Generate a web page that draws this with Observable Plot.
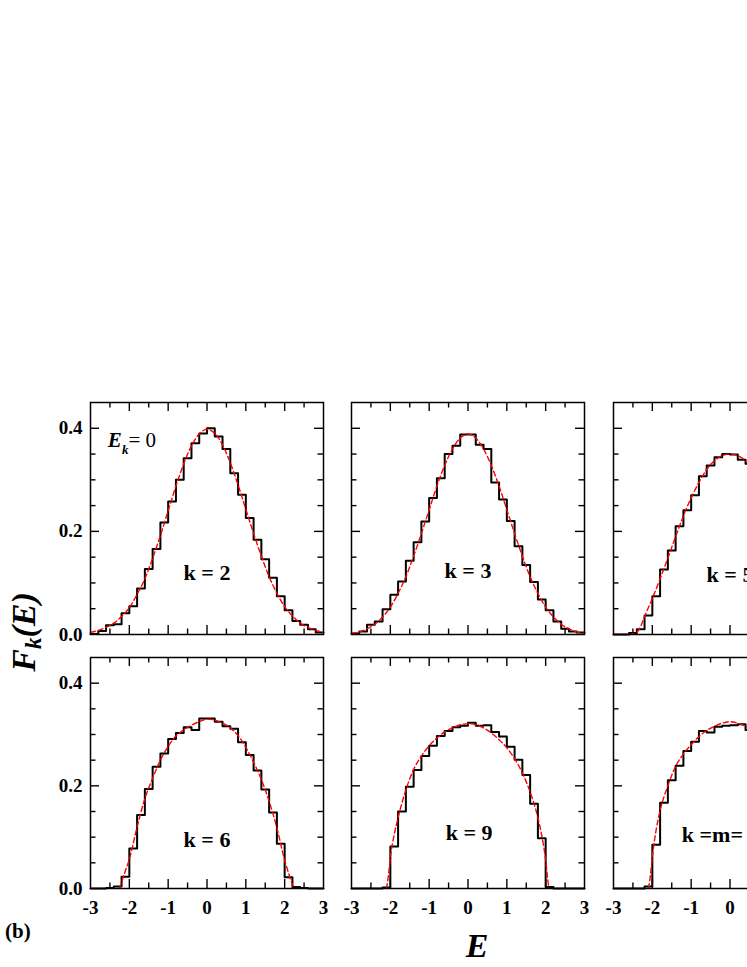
<!DOCTYPE html>
<html><head><meta charset="utf-8">
<script src="https://cdn.jsdelivr.net/npm/d3@7"></script>
<script src="https://cdn.jsdelivr.net/npm/@observablehq/plot@0.6"></script>
<style>
html,body{margin:0;padding:0;background:#fff;}
#wrap{position:relative;width:747px;height:967px;overflow:hidden;background:#fff;}
#wrap > svg{position:absolute;}
</style></head><body><div id="wrap"></div>
<script>
// ---------------- data ----------------
const binLeft = [-3.0,-2.8,-2.6,-2.4,-2.2,-2.0,-1.8,-1.6,-1.4,-1.2,-1.0,-0.8,-0.6,-0.4,-0.2,0.0,0.2,0.4,0.6,0.8,1.0,1.2,1.4,1.6,1.8,2.0,2.2,2.4,2.6,2.8];
const histK2 = [0.001,0.007,0.018,0.020,0.041,0.055,0.089,0.127,0.166,0.217,0.258,0.300,0.342,0.371,0.390,0.400,0.384,0.360,0.313,0.271,0.226,0.184,0.146,0.110,0.074,0.047,0.026,0.019,0.010,0.004];
const histK3 = [0.002,0.006,0.019,0.025,0.049,0.077,0.103,0.143,0.179,0.219,0.265,0.303,0.350,0.366,0.388,0.388,0.368,0.360,0.295,0.262,0.220,0.171,0.135,0.102,0.068,0.047,0.025,0.011,0.006,0.004];
const histK5 = [0.000,0.000,0.003,0.010,0.037,0.074,0.126,0.163,0.210,0.241,0.270,0.307,0.328,0.344,0.350,0.349,0.339,0.331,0.310,0.270,0.240,0.210,0.165,0.125,0.075,0.037,0.010,0.003,0.000,0.000];
const histK6 = [0.000,0.000,0.001,0.004,0.023,0.078,0.143,0.194,0.237,0.263,0.291,0.303,0.314,0.309,0.331,0.331,0.325,0.316,0.311,0.285,0.260,0.230,0.193,0.148,0.087,0.022,0.003,0.001,0.000,0.000];
const histK9 = [0.000,0.000,0.000,0.000,0.002,0.082,0.150,0.198,0.231,0.258,0.278,0.297,0.307,0.314,0.317,0.323,0.317,0.318,0.305,0.296,0.276,0.251,0.221,0.165,0.098,0.003,0.000,0.000,0.000,0.000];
const histKm = [0.000,0.000,0.000,0.000,0.004,0.085,0.167,0.211,0.239,0.268,0.286,0.307,0.304,0.315,0.317,0.318,0.320,0.309,0.305,0.288,0.266,0.240,0.210,0.165,0.087,0.004,0.000,0.000,0.000,0.000];

const fitE_wide = [-3.0,-2.8,-2.6,-2.4,-2.2,-2.0,-1.8,-1.6,-1.4,-1.2,-1.0,-0.8,-0.6,-0.4,-0.2,0.0,0.2,0.4,0.6,0.8,1.0,1.2,1.4,1.6,1.8,2.0,2.2,2.4,2.6,2.8,3.0];
const fitK2 = [0.004,0.008,0.014,0.022,0.035,0.052,0.078,0.108,0.148,0.192,0.240,0.288,0.331,0.366,0.389,0.398,0.390,0.368,0.333,0.290,0.243,0.196,0.152,0.112,0.080,0.054,0.036,0.022,0.014,0.008,0.004];
const fitK3 = [0.002,0.005,0.011,0.020,0.034,0.053,0.080,0.112,0.152,0.196,0.242,0.288,0.328,0.360,0.381,0.389,0.381,0.360,0.328,0.288,0.242,0.196,0.152,0.112,0.080,0.053,0.034,0.020,0.011,0.005,0.002];
const fitE_K5 = [-3.0,-2.6,-2.5,-2.4,-2.3,-2.2,-2.0,-1.8,-1.6,-1.4,-1.2,-1.0,-0.8,-0.6,-0.4,-0.2,0.0,0.2,0.4,0.6,0.8,1.0,1.2,1.4,1.6,1.8,2.0,2.2,2.3,2.4,2.5,2.6,3.0];
const fitK5 = [0,0,0.001,0.004,0.016,0.035,0.070,0.108,0.148,0.190,0.230,0.265,0.295,0.320,0.337,0.347,0.350,0.347,0.337,0.320,0.295,0.265,0.230,0.190,0.148,0.108,0.070,0.035,0.016,0.004,0.001,0,0];
const fitE_K6 = [-2.25,-2.2,-2.1,-2.0,-1.8,-1.6,-1.4,-1.2,-1.0,-0.8,-0.6,-0.4,-0.2,0.0,0.2,0.4,0.6,0.8,1.0,1.2,1.4,1.6,1.8,2.0,2.1,2.2,2.25];
const fitK6 = [0,0.012,0.035,0.057,0.120,0.175,0.215,0.250,0.277,0.297,0.309,0.318,0.325,0.330,0.328,0.322,0.313,0.298,0.275,0.246,0.212,0.170,0.118,0.055,0.030,0.008,0];
const fitE_K9 = [-2.1,-2.05,-2.0,-1.9,-1.8,-1.6,-1.4,-1.2,-1.0,-0.8,-0.6,-0.4,-0.2,0.0,0.2,0.4,0.6,0.8,1.0,1.2,1.4,1.6,1.8,1.9,2.0,2.05,2.08];
const fitK9 = [0,0.025,0.060,0.105,0.138,0.192,0.232,0.258,0.278,0.293,0.305,0.313,0.319,0.321,0.319,0.313,0.303,0.290,0.274,0.253,0.225,0.188,0.138,0.103,0.055,0.020,0];
const fitE_Km = [-2.1,-2.05,-2.0,-1.9,-1.8,-1.6,-1.4,-1.2,-1.0,-0.8,-0.6,-0.4,-0.2,0.0,0.2,0.4,0.6,0.8,1.0,1.2,1.4,1.6,1.8,1.9,2.0,2.05,2.1];
const fitKm = [0,0.025,0.062,0.115,0.152,0.200,0.238,0.262,0.280,0.296,0.308,0.316,0.322,0.325,0.322,0.316,0.308,0.296,0.280,0.262,0.238,0.200,0.152,0.115,0.062,0.025,0];

const panelLabels = ["k = 2","k = 3","k = 5","k = 6","k = 9","k =m= 12"];
const labelE = [0, 0, 0, 0, 0.03, -1.24];
const labelF = [0.120, 0.124, 0.116, 0.094, 0.109, 0.105];
const labelAnchor = ["middle","middle","middle","middle","middle","start"];

const xTickLabels = [-3,-2,-1,0,1,2,3];
const xTickLabelsCut = [-3,-2,-1,0];   // third column is cut by the page edge
const xMajor = [-2,-1,0,1,2];
const xMinor = [-2.5,-1.5,-0.5,0.5,1.5,2.5];
const yTickLabels = [0.0,0.2,0.4];
const yMajor = [0.2,0.4];
const yMinor = [0.05,0.1,0.15,0.25,0.3,0.35];

// ---------------- layout ----------------
const SERIF = "'Liberation Serif','Times New Roman',serif";
const colLeft = [90, 351.3, 612.7];
const rowTop = [402, 657];
const rowH = [232, 231];
const FW = 233;
const wrap = document.getElementById("wrap");

const panels = [
  {col:0,row:0,hist:histK2,fe:fitE_wide,ff:fitK2},
  {col:1,row:0,hist:histK3,fe:fitE_wide,ff:fitK3},
  {col:2,row:0,hist:histK5,fe:fitE_K5,ff:fitK5},
  {col:0,row:1,hist:histK6,fe:fitE_K6,ff:fitK6},
  {col:1,row:1,hist:histK9,fe:fitE_K9,ff:fitK9},
  {col:2,row:1,hist:histKm,fe:fitE_Km,ff:fitKm}
];

panels.forEach((P, idx) => {
  const fh = rowH[P.row];
  const mL = P.col === 0 ? 90 : 6, mR = 6, mT = 6, mB = P.row === 1 ? 40 : 6;
  const W = mL + FW + mR, H = mT + fh + mB;
  const steps = binLeft.map((e, i) => ({E: e, F: P.hist[i]}));
  steps.push({E: 3.0, F: P.hist[P.hist.length - 1]});
  const fit = P.fe.map((e, i) => ({E: e, F: P.ff[i]}));
  const lab = [{E: labelE[idx], F: labelF[idx], t: panelLabels[idx]}];
  const tk = {stroke: "#000", strokeWidth: 1.4};
  const p = Plot.plot({
    width: W, height: H,
    marginLeft: mL, marginRight: mR, marginTop: mT, marginBottom: mB,
    style: {fontFamily: SERIF, fontSize: "19px", fontWeight: "bold", background: "transparent", overflow: "visible", color: "#000"},
    x: {domain: [-3, 3], ticks: P.col === 2 ? xTickLabelsCut : xTickLabels, tickSize: 0, tickPadding: 12, tickFormat: d => String(d), label: null, axis: P.row === 1 ? "bottom" : null},
    y: {domain: [0, 0.45], ticks: yTickLabels, tickSize: 0, tickPadding: 8, tickFormat: d => d.toFixed(1), label: null, axis: P.col === 0 ? "left" : null},
    marks: [
      Plot.tickX(xMajor, {x: d => d, insetTop: fh - 9, ...tk}),
      Plot.tickX(xMinor, {x: d => d, insetTop: fh - 5.5, ...tk}),
      Plot.tickX(xMajor, {x: d => d, insetBottom: fh - 9, ...tk}),
      Plot.tickX(xMinor, {x: d => d, insetBottom: fh - 5.5, ...tk}),
      Plot.tickY(yMajor, {y: d => d, insetRight: FW - 9, ...tk}),
      Plot.tickY(yMinor, {y: d => d, insetRight: FW - 5.5, ...tk}),
      Plot.tickY(yMajor, {y: d => d, insetLeft: FW - 9, ...tk}),
      Plot.tickY(yMinor, {y: d => d, insetLeft: FW - 5.5, ...tk}),
      Plot.line(steps, {x: "E", y: "F", curve: "step-after", stroke: "#000", strokeWidth: 2}),
      Plot.line(fit, {x: "E", y: "F", curve: "monotone-x", stroke: "#ff0000", strokeWidth: 1.4, strokeDasharray: "5,3"}),
      Plot.frame({stroke: "#000", strokeWidth: 1.5}),
      Plot.text(lab, {x: "E", y: "F", text: "t", fontSize: 22, fontWeight: "bold", fontFamily: SERIF, textAnchor: labelAnchor[idx], fill: "#000"})
    ]
  });
  p.style.left = (colLeft[P.col] - mL) + "px";
  p.style.top = (rowTop[P.row] - mT) + "px";
  wrap.appendChild(p);

  if (idx === 0) {
    const sx = p.scale("x"), sy = p.scale("y");
    const t = d3.select(p).append("text")
      .attr("x", sx.apply(-2.54)).attr("y", sy.apply(0.363))
      .attr("text-anchor", "start")
      .attr("font-family", SERIF).attr("font-size", 21).attr("fill", "#000");
    t.append("tspan").attr("font-style", "italic").attr("font-weight", "bold").text("E");
    t.append("tspan").attr("font-style", "italic").attr("font-weight", "bold").attr("font-size", 13).attr("dy", 7).text("k");
    t.append("tspan").attr("font-weight", "normal").attr("dy", -7).text("= 0");
  }
});

// overlay for the shared labels
const ov = d3.create("svg").attr("width", 747).attr("height", 967)
  .style("left", "0px").style("top", "0px").style("pointer-events", "none");
const yl = ov.append("text").attr("transform", "translate(35,632) rotate(-90)")
  .attr("text-anchor", "middle").attr("font-family", SERIF).attr("font-size", 34)
  .attr("font-weight", "bold").attr("font-style", "italic").attr("fill", "#000");
yl.append("tspan").text("F");
yl.append("tspan").attr("font-size", 23).attr("dy", 6).text("k");
yl.append("tspan").attr("dy", -6).text("(E)");
ov.append("text").attr("x", 477).attr("y", 957).attr("text-anchor", "middle")
  .attr("font-family", SERIF).attr("font-size", 34).attr("font-weight", "bold").attr("font-style", "italic")
  .attr("fill", "#000").text("E");
ov.append("text").attr("x", 5).attr("y", 938)
  .attr("font-family", SERIF).attr("font-size", 21).attr("font-weight", "bold")
  .attr("fill", "#000").text("(b)");
wrap.appendChild(ov.node());
</script></body></html>
